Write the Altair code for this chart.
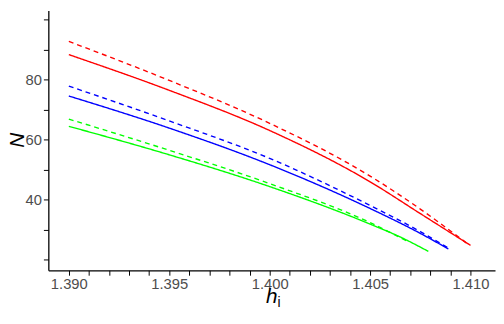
import altair as alt
import pandas as pd

# Series data
red_solid_h = [1.390, 1.395, 1.400, 1.405, 1.4075, 1.410]
red_solid_n = [88.3, 76.4, 63.0, 45.9, 35.3, 24.7]
red_dash_h = [1.390, 1.395, 1.400, 1.405, 1.4075, 1.4098]
red_dash_n = [92.7, 79.7, 65.4, 47.8, 36.8, 25.5]
blue_solid_h = [1.390, 1.395, 1.400, 1.405, 1.4075, 1.4089]
blue_solid_n = [74.5, 63.8, 51.6, 37.0, 28.7, 23.5]
blue_dash_h = [1.390, 1.395, 1.400, 1.405, 1.4075, 1.4089]
blue_dash_n = [77.8, 66.2, 53.7, 38.0, 29.3, 23.8]
green_solid_h = [1.390, 1.395, 1.400, 1.405, 1.4065, 1.4079]
green_solid_n = [64.4, 54.9, 44.3, 31.8, 27.5, 22.7]
green_dash_h = [1.390, 1.395, 1.400, 1.405, 1.4069]
green_dash_n = [66.8, 56.4, 45.3, 32.3, 25.9]

x_ticks = [round(1.389 + 0.001 * i, 3) for i in range(1, 22)]
x_labels = [1.390, 1.395, 1.400, 1.405, 1.410]
y_ticks = [20, 30, 40, 50, 60, 70, 80, 90, 100]
y_labels = [40, 60, 80]

series = [
    ("red_solid", "red", "solid", red_solid_h, red_solid_n),
    ("red_dash", "red", "dashed", red_dash_h, red_dash_n),
    ("blue_solid", "blue", "solid", blue_solid_h, blue_solid_n),
    ("blue_dash", "blue", "dashed", blue_dash_h, blue_dash_n),
    ("green_solid", "green", "solid", green_solid_h, green_solid_n),
    ("green_dash", "green", "dashed", green_dash_h, green_dash_n),
]
rows = []
for key, col, sty, hs, ns in series:
    for i, (h, n) in enumerate(zip(hs, ns)):
        rows.append({"key": key, "col": col, "sty": sty, "h": h, "N": n, "o": i})
df = pd.DataFrame(rows)

xlab_expr = "indexof([" + ",".join(f"'{v:.3f}'" for v in x_labels) + "], format(datum.value, '.3f')) >= 0 ? format(datum.value, '.3f') : ''"
ylab_expr = "indexof([" + ",".join(str(v) for v in y_labels) + "], datum.value) >= 0 ? datum.label : ''"

font = "Liberation Sans"

lines = alt.Chart(df).mark_line(strokeWidth=1.4, clip=True, interpolate="monotone").encode(
    x=alt.X("h:Q", scale=alt.Scale(domain=[1.38898, 1.41122], nice=False, zero=False),
            axis=alt.Axis(values=x_ticks, labelExpr=xlab_expr, title=None, grid=False,
                          domainColor="black", domainWidth=1.3, tickColor="black", tickSize=5,
                          tickWidth=1, labelColor="#4d4d4d", labelFont=font, labelFontSize=15,
                          labelPadding=2, labelFlush=False, labelOverlap=False)),
    y=alt.Y("N:Q", scale=alt.Scale(domain=[16.4, 103], nice=False, zero=False),
            axis=alt.Axis(values=y_ticks, labelExpr=ylab_expr, title=None, grid=False,
                          domainColor="black", domainWidth=1.3, tickColor="black", tickSize=5,
                          tickWidth=1, labelColor="#4d4d4d", labelFont=font, labelFontSize=15,
                          labelPadding=2, labelOverlap=False)),
    color=alt.Color("col:N", scale=alt.Scale(domain=["red", "blue", "green"],
                                            range=["#ff0000", "#0000ff", "#00ff00"]), legend=None),
    strokeDash=alt.StrokeDash("sty:N", scale=alt.Scale(domain=["solid", "dashed"],
                                                       range=[[1, 0], [5, 4]]), legend=None),
    detail="key:N",
    order="o:Q",
)

ytitle = alt.Chart(pd.DataFrame({"t": ["N"]})).mark_text(
    font=font, fontSize=21, fontStyle="italic", angle=270, color="black").encode(
    x=alt.value(-31), y=alt.value(132), text="t:N")
hx = alt.Chart(pd.DataFrame({"t": ["h"]})).mark_text(
    font=font, fontSize=21, fontStyle="italic", color="black", align="center").encode(
    x=alt.value(227), y=alt.value(291), text="t:N")
ix = alt.Chart(pd.DataFrame({"t": ["i"]})).mark_text(
    font=font, fontSize=14, color="black", align="left").encode(
    x=alt.value(233), y=alt.value(297), text="t:N")

chart = alt.layer(lines, ytitle, hx, ix).properties(
    width=454, height=264,
    autosize=alt.AutoSizeParams(type="none"),
    padding={"left": 41, "top": 0, "right": 1, "bottom": 50},
).configure_view(stroke=None)

chart.save("out.html", embed_options={"renderer": "svg", "actions": False})
